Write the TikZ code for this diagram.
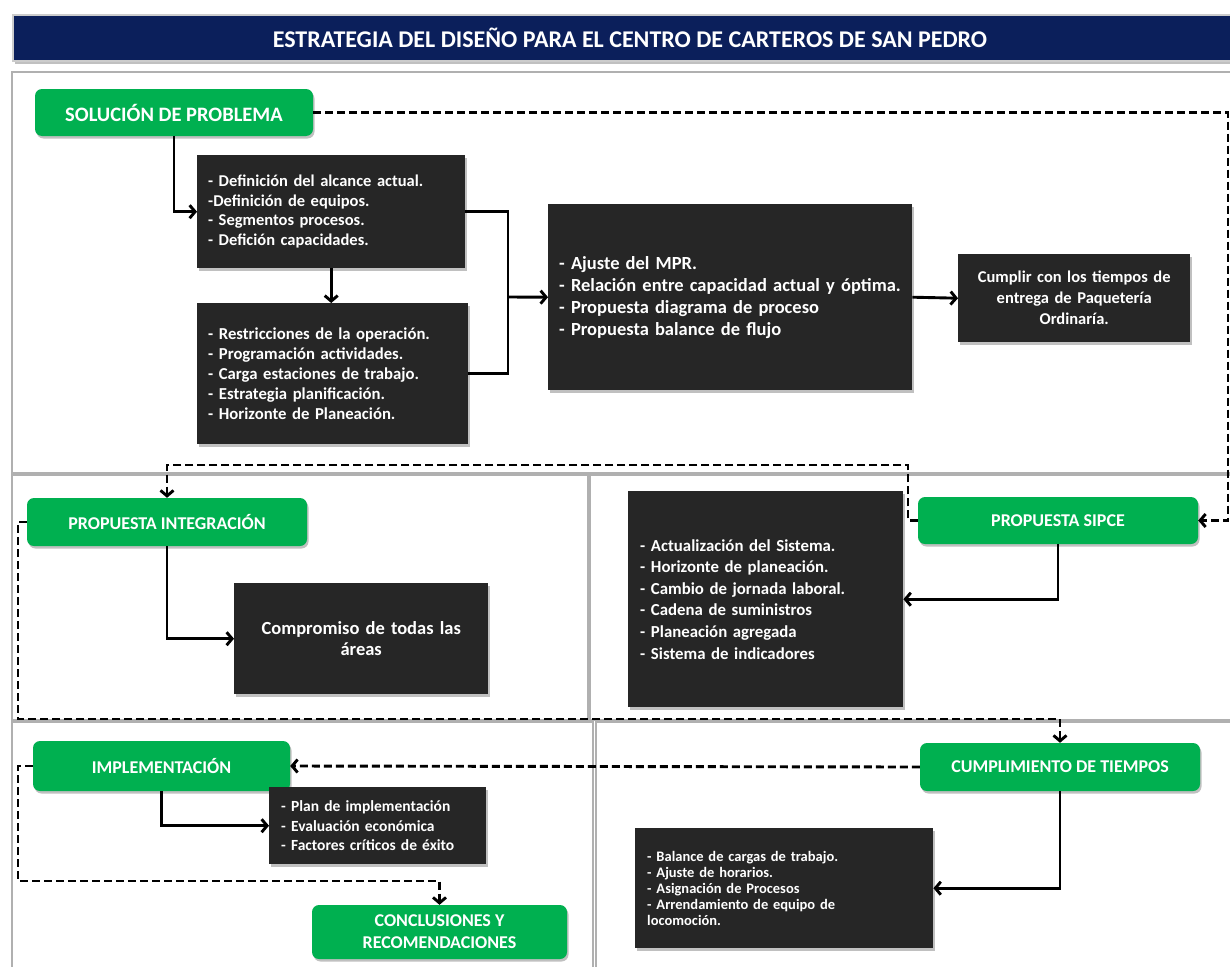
\documentclass[tikz,border=0pt]{standalone}
\usepackage{fontspec}
\setmainfont{Carlito}
\usetikzlibrary{arrows.meta,shadows,calc}

\definecolor{navy}{HTML}{0B1F5B}
\definecolor{ofgreen}{HTML}{00B050}
\definecolor{boxdark}{HTML}{262626}
\definecolor{panelgray}{HTML}{B0B0B0}

\newcommand\fsz[2]{\fontsize{#1}{#2}\selectfont\bfseries}

\begin{document}
\begin{tikzpicture}[x=1pt,y=-1pt,
  softshadow/.style={drop shadow={shadow xshift=1.5pt,shadow yshift=-2.5pt,opacity=0.35,fill=black!70}},
  panel/.style={draw=panelgray,line width=1.5pt,fill=white},
  greenbox/.style={rectangle,rounded corners=7pt,fill=ofgreen,text=white,
    align=center,inner sep=0pt,font=\fsz{18}{22},softshadow},
  darkbox/.style={rectangle,fill=boxdark,text=white,align=left,
    inner xsep=11pt,inner ysep=0pt,anchor=north west,softshadow},
  link/.style={line width=2.9pt},
  conn/.style={link,-{Straight Barb[length=5.5pt,width=13pt]}},
  dconn/.style={conn,dash pattern=on 8pt off 4pt},
]
\useasboundingbox (0,0) rectangle (1230,966);
\fill[white] (0,0) rectangle (1230,966);

% ---------- panels ----------
\draw[panel] (12,72) rectangle (1250,473);
\draw[panel] (12,475) rectangle (588,720);
\draw[panel] (590,475) rectangle (1250,720);
\draw[panel] (12,722) rectangle (593,980);
\draw[panel] (596,722) rectangle (1250,980);

% ---------- title bar ----------
\node[rectangle,fill=navy,draw=black!20,line width=2pt,anchor=north west,
  minimum width=1234pt,minimum height=46pt,inner sep=0pt,text=white,
  font=\fsz{24}{27},softshadow] (title) at (12,14)
  {ESTRATEGIA DEL DISEÑO PARA EL CENTRO DE CARTEROS DE SAN PEDRO};

% ---------- green stage boxes ----------
\node[greenbox,minimum width=278pt,minimum height=47pt,font=\fsz{20.5}{24}] (sol) at (174,112.5) {SOLUCIÓN DE PROBLEMA};
\node[greenbox,minimum width=280pt,minimum height=48pt] (integ) at (167,522) {PROPUESTA INTEGRACIÓN};
\node[greenbox,minimum width=280pt,minimum height=47pt] (sipce) at (1058,520.5) {PROPUESTA SIPCE};
\node[greenbox,minimum width=280pt,minimum height=48pt] (cum) at (1060,767) {CUMPLIMIENTO DE TIEMPOS};
\node[greenbox,minimum width=257pt,minimum height=50pt] (impl) at (161.5,766) {IMPLEMENTACIÓN};
\node[greenbox,minimum width=255pt,minimum height=54pt] (conc) at (439.5,932) {CONCLUSIONES Y\\RECOMENDACIONES};

% ---------- dark detail boxes ----------
\node[darkbox,text width=246pt,minimum height=113pt,font=\fsz{16.5}{19.5}] (b1) at (197,155)
  {- Definición del alcance actual.\\-Definición de equipos.\\- Segmentos procesos.\\- Defición capacidades.};
\node[darkbox,text width=249pt,minimum height=141pt,font=\fsz{16.7}{20}] (b2) at (197,303)
  {- Restricciones de la operación.\\- Programación actividades.\\- Carga estaciones de trabajo.\\- Estrategia planificación.\\- Horizonte de Planeación.};
\node[darkbox,text width=342pt,minimum height=186pt,font=\fsz{18.5}{22}] (b3) at (548,204)
  {- Ajuste del MPR.\\- Relación entre capacidad actual y óptima.\\- Propuesta diagrama de proceso\\- Propuesta balance de flujo};
\node[darkbox,text width=210pt,minimum height=88pt,align=center,font=\fsz{16.5}{21}] (b4) at (958,254)
  {Cumplir con los tiempos de\\entrega de Paquetería\\Ordinaría.};
\node[darkbox,text width=232pt,minimum height=111pt,align=center,font=\fsz{18.5}{21}] (b5) at (234,583)
  {Compromiso de todas las\\áreas};
\node[darkbox,inner xsep=12pt,text width=251pt,minimum height=216pt,font=\fsz{16.8}{21.6}] (b6) at (628,491)
  {- Actualización del Sistema.\\- Horizonte de planeación.\\- Cambio de jornada laboral.\\- Cadena de suministros\\- Planeación agregada\\- Sistema de indicadores};
\node[darkbox,inner xsep=12pt,text width=274pt,minimum height=120pt,font=\fsz{14.5}{16}] (b7) at (635,828)
  {- Balance de cargas de trabajo.\\- Ajuste de horarios.\\- Asignación de Procesos\\- Arrendamiento de equipo de\\locomoción.};
\node[darkbox,inner xsep=12pt,text width=193pt,minimum height=77pt,font=\fsz{15.5}{19.5}] (b8) at (269,787)
  {- Plan de implementación\\- Evaluación económica\\- Factores críticos de éxito};

% ---------- bend points ----------
\coordinate (jn) at (508,297);
\coordinate (rt) at (1228,300);
\coordinate (k1) at (908,465);
\coordinate (k2) at (18,719);
\coordinate (k3) at (18,881);

% ---------- solid connectors ----------
\draw[conn] (sol.south) |- (b1.west);
\draw[conn] (b1.south) -- (b1.south |- b2.north);
\draw[link] (b1.east) -| (jn);
\draw[link] (b2.east) -| (jn);
\draw[conn] (jn) -- (b3.west);
\draw[conn] (b3.east) -- (b4.west);
\draw[conn] (integ.south) |- (b5.west);
\draw[conn] (sipce.south) |- (b6.east);
\draw[conn] (cum.south) |- (b7.east);
\draw[conn] (impl.south) |- (b8.west);

% ---------- dashed flow between stages ----------
\draw[dconn] (sol.east) -- (sol.east -| rt) |- (sipce.east);
\draw[dconn] (sipce.west) -| (k1) -| (integ.north);
\draw[dconn] (integ.west) -| (k2) -| (cum.north);
\draw[dconn] (cum.west) -- (impl.east);
\draw[dconn] (impl.west) -| (k3) -| (conc.north);
\end{tikzpicture}
\end{document}
